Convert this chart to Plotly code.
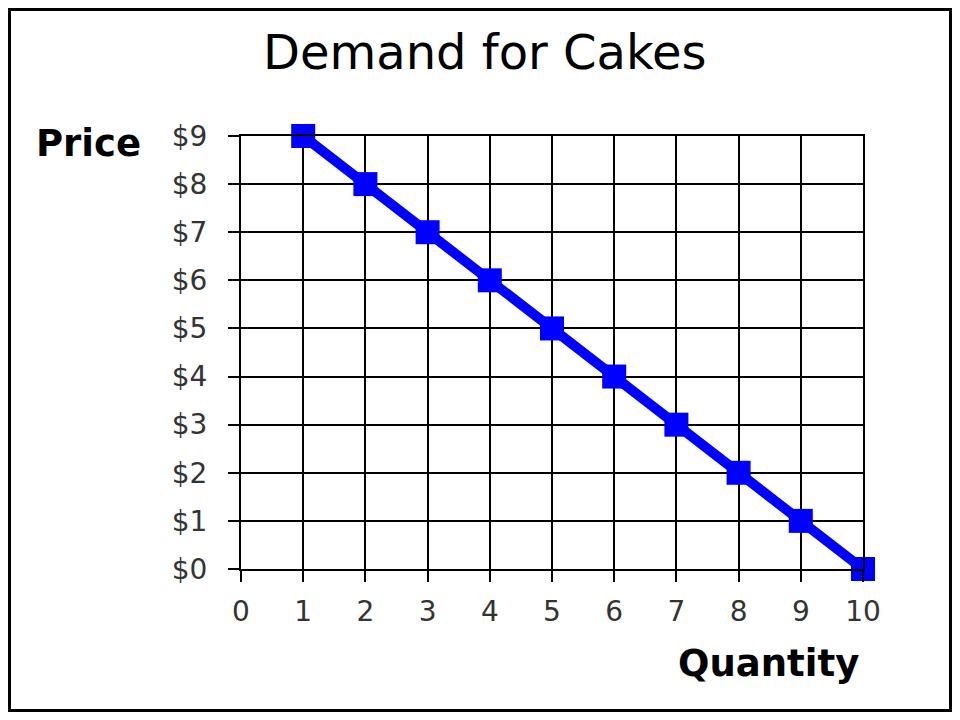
import plotly.graph_objects as go

quantity = [1, 2, 3, 4, 5, 6, 7, 8, 9, 10]
price = [9, 8, 7, 6, 5, 4, 3, 2, 1, 0]
x_ticks = list(range(0, 11))
y_ticks = list(range(0, 10))
y_labels = ["$%d" % v for v in y_ticks]

# page body has an 8px margin; keep the figure inside the 960x720 window
OFF = 8
W, H = 960 - 2 * OFF, 720 - 2 * OFF
# plot area in reference (window) pixels
X0, X1, Y0, Y1 = 241, 863, 136, 569
L, R, T, B = X0 - OFF, W - (X1 - OFF), Y0 - OFF, H - (Y1 - OFF)
pw, ph = W - L - R, H - T - B

def px(xw):
    return (xw - OFF - L) / pw

def py(yw):
    return 1 - (yw - OFF - T) / ph

FONT = "DejaVu Sans, Arial, sans-serif"

fig = go.Figure()
fig.add_trace(go.Scatter(
    x=quantity, y=price, mode="lines+markers",
    line=dict(color="#0000FF", width=10),
    marker=dict(symbol="square", size=24, color="#0000FF"),
    cliponaxis=False, showlegend=False,
))

axis_common = dict(
    showgrid=True, gridcolor="#000000", gridwidth=2,
    ticks="outside", ticklen=11, tickwidth=2, tickcolor="#000000",
    showline=True, mirror=True, linecolor="#000000", linewidth=2,
    zeroline=False,
    tickfont=dict(family=FONT, size=28, color="#333333"),
)

fig.update_layout(
    width=W, height=H,
    margin=dict(l=L, r=R, t=T, b=B),
    paper_bgcolor="#FFFFFF", plot_bgcolor="#FFFFFF",
    xaxis=dict(range=[0, 10], tickvals=x_ticks, ticktext=[str(v) for v in x_ticks], **axis_common),
    yaxis=dict(range=[0, 9], tickvals=y_ticks, ticktext=y_labels, **axis_common),
    annotations=[
        dict(text="Demand for Cakes", xref="paper", yref="paper", x=px(485), y=py(52),
             xanchor="center", yanchor="middle", showarrow=False,
             font=dict(family=FONT, size=48, color="#000000")),
        dict(text="<b>Price</b>", xref="paper", yref="paper", x=px(88), y=py(143),
             xanchor="center", yanchor="middle", showarrow=False,
             font=dict(family=FONT, size=37, color="#000000")),
        dict(text="<b>Quantity</b>", xref="paper", yref="paper", x=px(768), y=py(663),
             xanchor="center", yanchor="middle", showarrow=False,
             font=dict(family=FONT, size=37, color="#000000")),
    ],
    shapes=[
        dict(type="rect", xref="paper", yref="paper",
             x0=px(OFF + 1.5), x1=px(960 - OFF - 1.5), y0=py(720 - OFF - 1.5), y1=py(OFF + 1.5),
             line=dict(color="#000000", width=3), layer="below"),
    ],
)
fig.update_yaxes(ticklabelstandoff=15)
fig.update_xaxes(ticklabelstandoff=5)

fig.write_html("out.html")
